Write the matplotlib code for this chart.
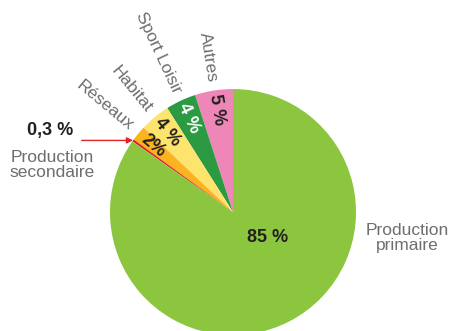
import numpy as np
import matplotlib
matplotlib.use("Agg")
import matplotlib.pyplot as plt

plt.rcParams['font.family'] = ['Liberation Sans', 'DejaVu Sans']

categories = ['Autres', 'Sport Loisir', 'Habitat', 'Réseaux', 'Production secondaire', 'Production primaire']
values = [5, 4, 4, 2, 0.3, 85]
pct_labels = ['5 %', '4 %', '4 %', '2%', '0,3 %', '85 %']
colors = ['#ee87b7', '#2b9a43', '#fde46c', '#fbb41f', '#e42329', '#8cc63f']
pct_colors = ['#231f20', 'white', '#231f20', '#231f20', '#231f20', '#231f20']
gray = '#6d6e71'

fig = plt.figure(figsize=(4.5, 3.31), dpi=100)
ax = fig.add_axes([0, 0, 1, 1])

wedges, _ = ax.pie(values, colors=colors, startangle=90, counterclock=True,
                   radius=1.0, center=(0, 0), frame=True)
ax.set_xlim(-1.894, 1.764)
ax.set_ylim(-0.967, 1.724)
ax.axis('off')

for i, w in enumerate(wedges):
    mid = 0.5 * (w.theta1 + w.theta2)
    rad = np.deg2rad(mid)
    name = categories[i]
    if name == 'Production primaire':
        ax.text(0.28, -0.21, pct_labels[i], fontsize=13, fontweight='bold',
                color=pct_colors[i], ha='center', va='center')
        ax.text(1.415, -0.21, 'Production\nprimaire', fontsize=12.5, color=gray,
                ha='center', va='center', linespacing=1.0)
    elif name == 'Production secondaire':
        tip = (np.cos(rad), np.sin(rad))
        ax.annotate('', xy=tip, xytext=(-1.23, tip[1]),
                    arrowprops=dict(arrowstyle='-|>', color='#e42329', lw=1.0,
                                    mutation_scale=9, shrinkA=0, shrinkB=0))
        ax.text(-1.49, 0.667, pct_labels[i], fontsize=13, fontweight='bold',
                color='#231f20', ha='center', va='center')
        ax.text(-1.47, 0.38, 'Production\nsecondaire', fontsize=12.5, color=gray,
                ha='center', va='center', linespacing=1.0)
    else:
        rot = mid - 180
        ax.text(0.84 * np.cos(rad), 0.84 * np.sin(rad), pct_labels[i],
                fontsize=13, fontweight='bold', color=pct_colors[i],
                rotation=rot, rotation_mode='anchor', ha='center', va='center')
        ax.text(1.07 * np.cos(rad), 1.07 * np.sin(rad), name,
                fontsize=12.5, color=gray, rotation=rot, rotation_mode='anchor',
                ha='right', va='center')

fig.savefig('out.png', dpi=100)
